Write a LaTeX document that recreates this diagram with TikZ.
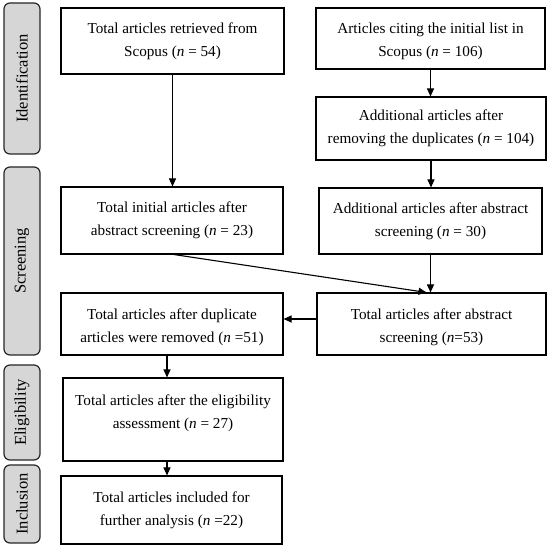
\documentclass[tikz,border=0pt]{standalone}
\usepackage{fontspec}
\setmainfont{Liberation Serif}
\usetikzlibrary{arrows.meta}
\tikzset{
  box/.style={draw=black, line width=1.1pt, rectangle, inner sep=0pt, align=center,
    font=\fontsize{15.2}{23}\selectfont},
  sidebox/.style={draw=black!85, line width=1.2pt, fill=black!16, rounded corners=6pt,
    inner sep=0pt, minimum width=36pt},
  sidetxt/.style={rotate=90, inner sep=0pt, font=\fontsize{16.5}{18}\selectfont},
  txt/.style={inner sep=0pt, align=center, font=\fontsize{15.2}{23}\selectfont},
  arr/.style={line width=1.1pt, -{Triangle[length=8pt,width=7pt]}}
}
\begin{document}
\begin{tikzpicture}[x=1pt,y=-1pt]
\useasboundingbox (0,0) rectangle (550,548);
% side labels
\node[sidebox, minimum height=151pt] (sid) at (22,78.5) {};
\node[sidetxt] (tid) at (sid.center) {Identification};
\node[sidebox, minimum height=188pt] (ssc) at (22,261) {};
\node[sidetxt] (tsc) at (ssc.center) {Screening};
\node[sidebox, minimum height=95pt] (sel) at (22,412.5) {};
\node[sidetxt] (tel) at (sel.center) {Eligibility};
\node[sidebox, minimum height=78pt] (sin) at (22,504) {};
\node[sidetxt] (tin) at (sin.center) {Inclusion};
% boxes
\node[box, minimum width=223pt, minimum height=66pt] (A) at (172.5,41) {Total articles retrieved from\\Scopus (\textit{n} = 54)};
\node[box, minimum width=229pt, minimum height=61pt] (B) at (430.5,38.5) {};
\node[txt] (tB) at (430.5,41.5) {Articles citing the initial list in\\Scopus (\textit{n} = 106)};
\node[box, minimum width=230pt, minimum height=63pt] (C) at (431,128.5) {Additional articles after\\removing the duplicates (\textit{n} = 104)};
\node[box, minimum width=222pt, minimum height=67pt] (D) at (172,220.5) {Total initial articles after\\abstract screening (\textit{n} = 23)};
\node[box, minimum width=223pt, minimum height=66pt] (E) at (430.5,221) {Additional articles after abstract\\screening (\textit{n} = 30)};
\node[box, minimum width=222pt, minimum height=62pt] (F) at (172,324) {};
\node[txt] (tF) at (172,327) {Total articles after duplicate\\articles were removed (\textit{n} =51)};
\node[box, minimum width=229pt, minimum height=62pt] (G) at (431.5,324) {};
\node[txt] (tG) at (431.5,327.5) {Total articles after abstract\\screening (\textit{n}=53)};
\node[box, minimum width=220pt, minimum height=83pt] (H) at (173,419.5) {};
\node[txt] (tH) at (173,413.5) {Total articles after the eligibility\\assessment (\textit{n} = 27)};
\node[box, minimum width=221pt, minimum height=68pt] (I) at (171.5,510) {Total articles included for\\further analysis (\textit{n} =22)};
% connectors
\coordinate (gin) at ([xshift=-5pt]G.north);
\coordinate (fout) at ([xshift=-5pt]F.south);
\coordinate (gl) at ([yshift=5pt]G.west);
\draw[arr] (A.south) -- (A.south |- D.north);
\draw[arr] (B.south) -- (B.south |- C.north);
\draw[arr] (C.south) -- (C.south |- E.north);
\draw[arr] (E.south) -- (E.south |- G.north);
\draw[arr] ([xshift=2pt]D.south) -- (gin);
\draw[arr] (gl) -- (gl -| F.east);
\draw[arr] (fout) -- (fout |- H.north);
\draw[arr] (fout |- H.south) -- (fout |- I.north);
\end{tikzpicture}
\end{document}
